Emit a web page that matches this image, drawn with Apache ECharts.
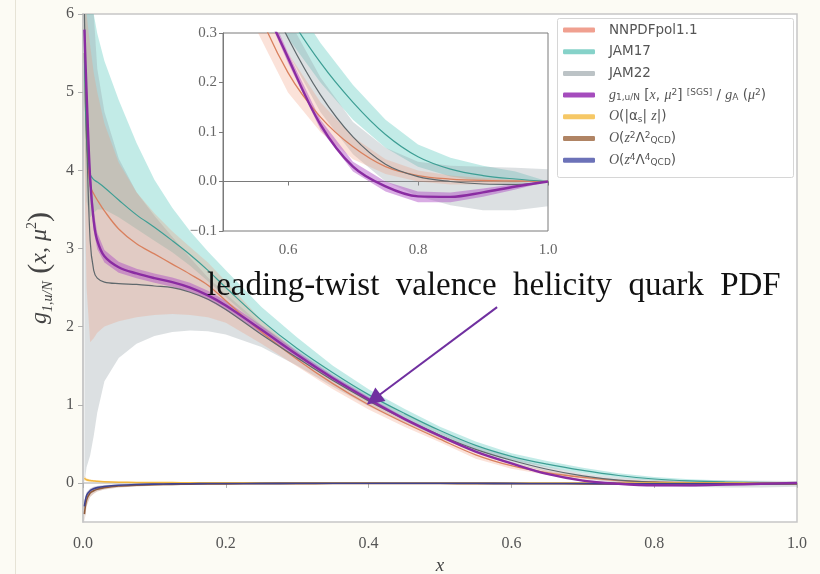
<!DOCTYPE html>
<html><head><meta charset="utf-8">
<script src="https://cdn.jsdelivr.net/npm/echarts@6/dist/echarts.min.js"></script>
<style>html,body{margin:0;padding:0;background:#fcfbf4}#c{width:820px;height:574px}</style>
</head><body><div id="c"></div>
<script>
// ---- data ----
const xs = [0.002,0.005,0.01,0.015,0.02,0.03,0.05,0.075,0.1,0.125,0.15,0.175,0.2,0.25,0.3,0.35,0.4,0.45,0.5,0.55,0.6,0.65,0.7,0.75,0.8,0.85,0.9,0.95,1.0];

const nnpdfMid = [5.5,4.4,3.8,3.7,3.62,3.48,3.25,3.06,2.93,2.8,2.67,2.53,2.33,1.93,1.58,1.27,1.0,0.77,0.56,0.36,0.22,0.13,0.07,0.03,0.012,0.005,0.002,0.001,0];
const nnpdfLo  = [4.0,2.5,1.8,1.85,1.92,2.0,2.07,2.12,2.15,2.16,2.15,2.12,2.05,1.78,1.49,1.2,0.94,0.72,0.52,0.31,0.18,0.1,0.045,0.015,0.0,-0.006,-0.006,-0.003,0];
const nnpdfHi  = [6,6,5.6,5.25,5.0,4.6,4.1,3.72,3.45,3.22,3.02,2.82,2.58,2.08,1.67,1.34,1.06,0.82,0.6,0.4,0.26,0.16,0.09,0.045,0.022,0.012,0.007,0.004,0];

const jam17Mid = [5.5,4.4,3.95,3.88,3.85,3.78,3.62,3.43,3.27,3.1,2.92,2.72,2.5,2.08,1.72,1.41,1.13,0.89,0.67,0.48,0.34,0.24,0.16,0.095,0.05,0.025,0.012,0.005,0];
const jam17Lo  = [4.5,3.6,3.4,3.45,3.5,3.5,3.4,3.25,3.1,2.95,2.78,2.58,2.38,1.98,1.64,1.34,1.07,0.83,0.62,0.43,0.29,0.2,0.125,0.068,0.03,0.01,0.0,-0.003,0];
const jam17Hi  = [6,6,6,6,5.75,5.4,4.9,4.35,3.88,3.52,3.22,2.96,2.72,2.25,1.86,1.5,1.2,0.95,0.72,0.53,0.38,0.28,0.195,0.125,0.075,0.048,0.032,0.02,0];

const jam22Mid = [6.0,4.5,3.1,2.72,2.62,2.57,2.55,2.54,2.52,2.5,2.44,2.35,2.22,1.9,1.6,1.31,1.05,0.82,0.61,0.43,0.29,0.175,0.09,0.035,0.01,0.0,-0.005,-0.006,0];
const jam22Lo  = [0.0,0.2,0.35,0.6,0.9,1.3,1.6,1.78,1.88,1.93,1.95,1.94,1.9,1.74,1.5,1.23,0.98,0.76,0.57,0.4,0.26,0.14,0.055,0.0,-0.03,-0.048,-0.058,-0.058,-0.05];
const jam22Hi  = [6,6,6,6,5.3,4.75,4.15,3.72,3.42,3.15,2.88,2.63,2.42,2.02,1.7,1.39,1.12,0.88,0.66,0.47,0.33,0.21,0.12,0.068,0.04,0.032,0.03,0.028,0.025];

const sgsMid = [5.8,5.0,3.9,3.35,3.1,2.9,2.76,2.68,2.62,2.57,2.5,2.4,2.27,1.96,1.64,1.34,1.07,0.82,0.6,0.4,0.25,0.115,0.03,-0.01,-0.03,-0.031,-0.022,-0.01,0];
const sgsLo  = [5.6,4.8,3.75,3.22,2.99,2.82,2.69,2.62,2.56,2.51,2.44,2.34,2.21,1.91,1.6,1.31,1.04,0.8,0.585,0.39,0.24,0.105,0.02,-0.02,-0.042,-0.042,-0.031,-0.016,0];
const sgsHi  = [6.0,5.2,4.05,3.48,3.2,2.98,2.83,2.74,2.68,2.63,2.56,2.46,2.33,2.01,1.68,1.37,1.1,0.84,0.615,0.41,0.26,0.125,0.04,0.0,-0.02,-0.022,-0.014,-0.005,0];

const alphaMid = [0.06,0.04,0.03,0.025,0.02,0.015,0.01,0.007,0.005,0.004,0.003,0.002,0.002,0.001,0.001,0.001,0.001,0,0,0,0,0,0,0,0,0,0,0,0];
const alphaLo  = [0.03,0.02,0.015,0.012,0.01,0.007,0.004,0.002,0.001,0,0,-0.001,-0.001,-0.002,-0.002,-0.002,-0.002,-0.002,-0.002,-0.002,-0.002,-0.002,-0.002,-0.002,-0.002,-0.002,-0.002,-0.002,-0.002];
const alphaHi  = [0.09,0.06,0.045,0.038,0.03,0.023,0.016,0.012,0.009,0.008,0.006,0.005,0.005,0.004,0.004,0.004,0.004,0.002,0.002,0.002,0.002,0.002,0.002,0.002,0.002,0.002,0.002,0.002,0.002];

const z2Mid = [-0.4,-0.22,-0.13,-0.1,-0.08,-0.06,-0.04,-0.03,-0.022,-0.018,-0.015,-0.013,-0.012,-0.01,-0.009,-0.008,-0.008,-0.008,-0.008,-0.009,-0.01,-0.011,-0.012,-0.013,-0.014,-0.014,-0.014,-0.013,-0.012];
const z2Lo  = [-0.5,-0.3,-0.18,-0.14,-0.11,-0.085,-0.06,-0.045,-0.035,-0.03,-0.026,-0.024,-0.022,-0.02,-0.019,-0.018,-0.018,-0.018,-0.018,-0.019,-0.02,-0.021,-0.022,-0.023,-0.024,-0.024,-0.024,-0.023,-0.022];
const z2Hi  = [-0.3,-0.14,-0.08,-0.06,-0.05,-0.035,-0.02,-0.015,-0.01,-0.007,-0.005,-0.003,-0.002,0,0.001,0.002,0.002,0.002,0.002,0.001,0,-0.001,-0.002,-0.003,-0.004,-0.004,-0.004,-0.003,-0.002];

const z4Mid = [-0.3,-0.16,-0.1,-0.075,-0.06,-0.045,-0.03,-0.02,-0.015,-0.012,-0.01,-0.008,-0.007,-0.006,-0.005,-0.005,-0.005,-0.005,-0.005,-0.005,-0.006,-0.007,-0.008,-0.009,-0.01,-0.01,-0.01,-0.009,-0.008];
const z4Lo  = [-0.36,-0.2,-0.13,-0.1,-0.08,-0.062,-0.044,-0.032,-0.026,-0.022,-0.019,-0.017,-0.015,-0.013,-0.012,-0.012,-0.012,-0.012,-0.012,-0.012,-0.013,-0.014,-0.015,-0.016,-0.017,-0.017,-0.017,-0.016,-0.015];
const z4Hi  = [-0.24,-0.12,-0.07,-0.05,-0.04,-0.028,-0.016,-0.008,-0.004,-0.002,-0.001,0,0.001,0.001,0.002,0.002,0.002,0.002,0.002,0.002,0.001,0,-0.001,-0.002,-0.003,-0.003,-0.003,-0.002,-0.001];

const mainXTicks = [0, 0.2, 0.4, 0.6, 0.8, 1.0];
const mainYTicks = [0, 1, 2, 3, 4, 5, 6];
const insetXTicks = [0.6, 0.8, 1.0];
const insetYTicks = [-0.1, 0.0, 0.1, 0.2, 0.3];

const legendText = {
  'NNPDFpol1.1': 'NNPDFpol1.1',
  'JAM17': 'JAM17',
  'JAM22': 'JAM22',
  'SGS': '{i|g}{s|1,u/N} [{i|x}, {i|μ}{p|2}] {p|[SGS]} / {i|g}{s|A} ({i|μ}{p|2})',
  'Oas': '{i|O}(|α{s|s}| {i|z}|)',
  'Oz2': '{i|O}({i|z}{p|2}Λ{p|2}{s|QCD})',
  'Oz4': '{i|O}({i|z}{p|4}Λ{p|4}{s|QCD})'
};

// ---- chart ----
const chart = echarts.init(document.getElementById('c'));

function band(lo, hi, fill, ai, z) {
  return {
    type: 'custom', xAxisIndex: ai, yAxisIndex: ai, z: z, silent: true, clip: true,
    data: xs.map((x, i) => [x, lo[i], hi[i]]),
    encode: { x: 0, y: [1, 2] },
    renderItem: function (params, api) {
      if (params.dataIndex !== 0) return;
      const up = [], dn = [];
      for (let i = 0; i < xs.length; i++) up.push(api.coord([xs[i], hi[i]]));
      for (let i = xs.length - 1; i >= 0; i--) dn.push(api.coord([xs[i], lo[i]]));
      const cs = params.coordSys;
      return {
        type: 'group',
        clipPath: { type: 'rect', shape: { x: cs.x, y: cs.y, width: cs.width, height: cs.height } },
        children: [
          { type: 'polygon', shape: { points: up.concat(dn) }, style: { fill: fill, stroke: null } }
        ]
      };
    }
  };
}
function line(name, mid, color, width, ai, z, extra) {
  return Object.assign({
    type: 'line', name: name, xAxisIndex: ai, yAxisIndex: ai, z: z, silent: true,
    data: xs.map((x, i) => [x, mid[i]]),
    showSymbol: false, symbol: 'none', smooth: 0.35, clip: true,
    lineStyle: { color: color, width: width, join: 'round' }, itemStyle: { color: color }
  }, extra || {});
}

function buildSet(ai, zb, withCorr) {
  const s = [
    band(jam17Lo, jam17Hi, 'rgba(110,208,198,0.42)', ai, zb),
    band(jam22Lo, jam22Hi, 'rgba(150,162,168,0.33)', ai, zb),
    band(nnpdfLo, nnpdfHi, 'rgba(240,150,120,0.28)', ai, zb),
    band(sgsLo, sgsHi, 'rgba(170,70,195,0.45)', ai, zb)
  ];
  if (withCorr) {
    s.push(band(alphaLo, alphaHi, 'rgba(245,190,80,0.35)', ai, zb));
    s.push(band(z2Lo, z2Hi, 'rgba(160,100,70,0.3)', ai, zb));
    s.push(band(z4Lo, z4Hi, 'rgba(80,85,160,0.3)', ai, zb));
  }
  s.push(line('NNPDFpol1.1', nnpdfMid, '#d9805e', 1.3, ai, zb + 1));
  s.push(line('JAM17', jam17Mid, '#3d9e94', 1.2, ai, zb + 1));
  s.push(line('JAM22', jam22Mid, '#5f686c', 1.2, ai, zb + 1));
  const sgsExtra = ai === 0 ? {
    markLine: {
      silent: true, symbol: ['none', 'triangle'], symbolSize: 17,
      label: { show: false },
      lineStyle: { color: '#7030a0', width: 2, type: 'solid' },
      itemStyle: { color: '#7030a0' },
      data: [[{ coord: [0.58, 2.25] }, { coord: [0.407, 1.07] }]]
    }
  } : {};
  s.push(line('SGS', sgsMid, '#8a2ca2', 2.4, ai, zb + 2, sgsExtra));
  if (withCorr) {
    s.push(line('Oas', alphaMid, '#f2b63c', 1.5, ai, zb + 1));
    s.push(line('Oz2', z2Mid, '#8f5a3a', 1.6, ai, zb + 1));
    s.push(line('Oz4', z4Mid, '#3f4390', 1.6, ai, zb + 1));
  }
  return s;
}

const serif = 'Liberation Serif, DejaVu Serif, serif';

const option = {
  backgroundColor: '#fcfbf4',
  animation: false,
  grid: [
    { left: 83, right: 23, top: 14, bottom: 52, outerBoundsMode: 'none', show: true, backgroundColor: '#ffffff', borderColor: '#c6c6c6', borderWidth: 1.5 },
    { left: 223, right: 272, top: 33, bottom: 343, outerBoundsMode: 'none', show: true, backgroundColor: '#ffffff', borderColor: '#7a7a7a', borderWidth: 1, z: 5 }
  ],
  xAxis: [
    { type: 'value', gridIndex: 0, min: 0, max: 1,
      name: 'x', nameLocation: 'middle', nameGap: 33,
      nameTextStyle: { fontFamily: serif, fontStyle: 'italic', fontSize: 19, color: '#444' },
      axisLine: { show: true, lineStyle: { color: '#c6c6c6', width: 1.5 } },
      axisTick: { show: true, length: 5, lineStyle: { color: '#b0b0b0' }, customValues: mainXTicks },
      axisLabel: { customValues: mainXTicks, formatter: v => v.toFixed(1), fontFamily: serif, fontSize: 16, color: '#555', margin: 14 },
      splitLine: { show: false } },
    { type: 'value', gridIndex: 1, min: 0.5, max: 1, z: 6,
      axisLine: { show: true, lineStyle: { color: '#7a7a7a', width: 1 } },
      axisTick: { show: true, length: 4, lineStyle: { color: '#7a7a7a' }, customValues: insetXTicks },
      axisLabel: { customValues: insetXTicks, formatter: v => v.toFixed(1), fontFamily: serif, fontSize: 15, color: '#666', margin: 12 },
      splitLine: { show: false } }
  ],
  yAxis: [
    { type: 'value', gridIndex: 0, min: -0.5, max: 6,
      name: '{i|g}{s|1,u/N}{b| (}{i|x}{n|, }{i|μ}{p|2}{b|)}', nameLocation: 'middle', nameGap: 26, nameRotate: 90,
      nameTextStyle: { color: '#444', fontFamily: serif, fontSize: 24,
        rich: {
          i: { fontFamily: serif, fontStyle: 'italic', fontSize: 24, color: '#444', lineHeight: 30 },
          n: { fontFamily: serif, fontSize: 24, color: '#444', lineHeight: 30 },
          b: { fontFamily: serif, fontSize: 30, color: '#444', lineHeight: 30 },
          s: { fontFamily: serif, fontStyle: 'italic', fontSize: 14, color: '#444', verticalAlign: 'bottom', lineHeight: 14 },
          p: { fontFamily: serif, fontSize: 14, color: '#444', verticalAlign: 'top', lineHeight: 14 }
        } },
      axisLine: { show: true, lineStyle: { color: '#c6c6c6', width: 1.5 } },
      axisTick: { show: true, length: 5, lineStyle: { color: '#b0b0b0' }, customValues: mainYTicks },
      axisLabel: { customValues: mainYTicks, fontFamily: serif, fontSize: 16, color: '#555', margin: 9 },
      splitLine: { show: false } },
    { type: 'value', gridIndex: 1, min: -0.1, max: 0.3, interval: 0.1, z: 6,
      axisLine: { show: true, lineStyle: { color: '#7a7a7a', width: 1 } },
      axisTick: { show: true, length: 4, lineStyle: { color: '#7a7a7a' }, customValues: insetYTicks },
      axisLabel: { customValues: insetYTicks, formatter: v => (v < 0 ? '\u2212' + Math.abs(v).toFixed(1) : v.toFixed(1)), fontFamily: serif, fontSize: 15, color: '#666', margin: 6 },
      splitLine: { show: false } }
  ],
  legend: {
    orient: 'vertical', left: 563, top: 23, z: 12,
    padding: 0, itemGap: 7.7,
    itemWidth: 32, itemHeight: 5, icon: 'roundRect',
    selectedMode: false,
    data: [
      { name: 'NNPDFpol1.1', itemStyle: { color: '#f0a090' } },
      { name: 'JAM17', itemStyle: { color: '#86d2c9' } },
      { name: 'JAM22', itemStyle: { color: '#bcc3c6' } },
      { name: 'SGS', itemStyle: { color: '#a54cbd' } },
      { name: 'Oas', itemStyle: { color: '#f6c866' } },
      { name: 'Oz2', itemStyle: { color: '#b08464' } },
      { name: 'Oz4', itemStyle: { color: '#6c72b8' } }
    ],
    formatter: n => legendText[n],
    textStyle: { fontSize: 13.5, color: '#555', fontFamily: 'DejaVu Sans, sans-serif', lineHeight: 14, padding: [0, 0, 0, 9],
      rich: {
        i: { fontFamily: serif, fontStyle: 'italic', fontSize: 14, color: '#555', lineHeight: 14 },
        s: { fontSize: 9, color: '#555', verticalAlign: 'bottom', lineHeight: 9 },
        p: { fontSize: 9, color: '#555', verticalAlign: 'top', lineHeight: 9 }
      } }
  },
  graphic: [
    { type: 'line', z: 1, shape: { x1: 15.5, y1: 0, x2: 15.5, y2: 574 }, style: { stroke: '#e6e3d6', lineWidth: 1 } },
    { type: 'rect', z: 11, shape: { x: 557.5, y: 18.5, width: 236, height: 159, r: 2 }, style: { fill: '#ffffff', stroke: '#d6d6d6', lineWidth: 1 } },
    { type: 'text', z: 20, left: 207, top: 270,
      style: { text: 'leading-twist  valence  helicity  quark  PDF', font: '33px "Liberation Serif", serif', fill: '#111' } }
  ],
  series: [].concat(buildSet(0, 2, true), buildSet(1, 7, false))
};
chart.setOption(option);
</script></body></html>
